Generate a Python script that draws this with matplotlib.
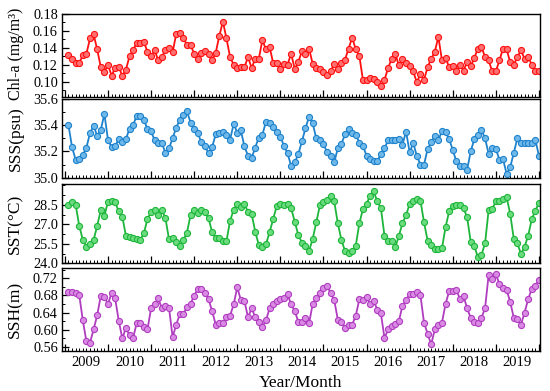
import numpy as np
import matplotlib
matplotlib.use("Agg")
import matplotlib.pyplot as plt
from matplotlib.ticker import FixedLocator, MultipleLocator

plt.rcParams['font.family'] = ['Liberation Serif', 'DejaVu Serif']

years = [str(y) for y in range(2009, 2020)]
months = np.arange(1, 133)

chla = [0.131, 0.127, 0.122, 0.122, 0.131, 0.133, 0.151, 0.156, 0.138, 0.117,
        0.111, 0.120, 0.107, 0.116, 0.117, 0.107, 0.114, 0.130, 0.137, 0.146,
        0.146, 0.147, 0.135, 0.130, 0.137, 0.125, 0.129, 0.137, 0.140, 0.135,
        0.156, 0.158, 0.152, 0.143, 0.143, 0.133, 0.127, 0.134, 0.136, 0.133,
        0.125, 0.134, 0.154, 0.171, 0.151, 0.129, 0.120, 0.116, 0.117, 0.117,
        0.129, 0.116, 0.127, 0.127, 0.149, 0.138, 0.141, 0.122, 0.122, 0.115,
        0.121, 0.120, 0.133, 0.115, 0.123, 0.136, 0.133, 0.139, 0.121, 0.116,
        0.115, 0.111, 0.108, 0.112, 0.121, 0.115, 0.122, 0.126, 0.139, 0.152,
        0.138, 0.130, 0.102, 0.102, 0.104, 0.103, 0.100, 0.095, 0.102, 0.116,
        0.127, 0.133, 0.119, 0.127, 0.122, 0.118, 0.112, 0.099, 0.109, 0.102,
        0.117, 0.127, 0.135, 0.153, 0.125, 0.128, 0.117, 0.118, 0.112, 0.120,
        0.113, 0.123, 0.118, 0.128, 0.139, 0.141, 0.129, 0.125, 0.112, 0.112,
        0.125, 0.139, 0.138, 0.123, 0.120, 0.129, 0.137, 0.127, 0.129, 0.120,
        0.112, 0.112]

sss = [35.400, 35.233, 35.137, 35.144, 35.172, 35.230, 35.340, 35.395, 35.320, 35.365,
       35.486, 35.290, 35.233, 35.238, 35.296, 35.270, 35.294, 35.375, 35.400, 35.473,
       35.473, 35.440, 35.372, 35.354, 35.284, 35.268, 35.263, 35.190, 35.225, 35.300,
       35.382, 35.440, 35.478, 35.506, 35.420, 35.370, 35.340, 35.270, 35.238, 35.190,
       35.233, 35.330, 35.340, 35.347, 35.327, 35.290, 35.410, 35.344, 35.360, 35.238,
       35.167, 35.150, 35.230, 35.306, 35.327, 35.428, 35.415, 35.390, 35.352, 35.314,
       35.243, 35.187, 35.090, 35.116, 35.180, 35.276, 35.377, 35.466, 35.415, 35.300,
       35.290, 35.258, 35.195, 35.162, 35.116, 35.225, 35.258, 35.330, 35.370, 35.340,
       35.327, 35.268, 35.243, 35.167, 35.142, 35.124, 35.124, 35.182, 35.225, 35.284,
       35.284, 35.284, 35.294, 35.251, 35.352, 35.195, 35.263, 35.167, 35.099, 35.099,
       35.218, 35.270, 35.320, 35.284, 35.357, 35.347, 35.294, 35.213, 35.124, 35.086,
       35.086, 35.060, 35.200, 35.294, 35.327, 35.365, 35.300, 35.182, 35.225, 35.220,
       35.137, 35.142, 35.030, 35.079, 35.190, 35.300, 35.268, 35.268, 35.268, 35.268,
       35.290, 35.167]

sst = [28.50, 28.68, 28.50, 26.88, 25.80, 25.28, 25.46, 25.80, 26.88, 28.11,
       27.65, 28.73, 28.83, 28.68, 27.99, 27.60, 26.10, 26.06, 25.98, 25.88,
       25.80, 26.31, 27.42, 27.93, 28.11, 27.73, 28.11, 27.47, 25.85, 25.93,
       25.62, 25.36, 25.80, 26.36, 27.73, 28.11, 27.86, 28.11, 27.93, 27.47,
       26.39, 25.93, 25.93, 25.72, 25.72, 27.27, 28.11, 28.55, 28.32, 28.58,
       27.93, 27.81, 26.44, 25.41, 25.28, 25.46, 26.39, 27.39, 28.42, 28.58,
       28.45, 28.58, 28.24, 27.21, 26.18, 25.59, 25.36, 24.95, 25.88, 27.14,
       28.45, 28.71, 28.89, 29.14, 28.76, 27.08, 25.80, 24.95, 24.82, 24.95,
       25.36, 27.08, 28.17, 28.58, 29.19, 29.53, 28.76, 28.24, 26.11, 25.75,
       25.75, 25.23, 26.11, 27.08, 27.68, 28.58, 28.83, 28.96, 28.83, 27.16,
       25.75, 25.41, 25.10, 25.10, 25.16, 26.78, 27.99, 28.42, 28.50, 28.50,
       28.24, 27.55, 25.67, 25.34, 24.46, 24.64, 25.54, 28.11, 28.17, 28.76,
       28.83, 28.96, 29.09, 27.81, 25.88, 25.54, 24.72, 25.28, 26.11, 27.39,
       28.06, 28.63]

ssh = [0.689, 0.687, 0.686, 0.681, 0.622, 0.573, 0.570, 0.601, 0.634, 0.679,
       0.677, 0.660, 0.685, 0.673, 0.621, 0.580, 0.605, 0.587, 0.581, 0.616,
       0.616, 0.607, 0.601, 0.650, 0.659, 0.673, 0.650, 0.655, 0.651, 0.583,
       0.612, 0.636, 0.636, 0.654, 0.661, 0.679, 0.695, 0.695, 0.685, 0.671,
       0.644, 0.612, 0.615, 0.615, 0.630, 0.633, 0.659, 0.699, 0.669, 0.667,
       0.629, 0.650, 0.630, 0.619, 0.607, 0.622, 0.650, 0.659, 0.667, 0.671,
       0.673, 0.683, 0.659, 0.644, 0.619, 0.619, 0.628, 0.615, 0.660, 0.675,
       0.686, 0.698, 0.703, 0.685, 0.669, 0.624, 0.619, 0.605, 0.611, 0.612,
       0.633, 0.671, 0.669, 0.676, 0.660, 0.667, 0.647, 0.638, 0.581, 0.601,
       0.608, 0.613, 0.620, 0.656, 0.669, 0.683, 0.683, 0.687, 0.681, 0.617,
       0.591, 0.566, 0.601, 0.611, 0.617, 0.660, 0.690, 0.690, 0.693, 0.672,
       0.679, 0.650, 0.628, 0.619, 0.615, 0.628, 0.650, 0.728, 0.718, 0.729,
       0.707, 0.697, 0.693, 0.665, 0.628, 0.625, 0.612, 0.640, 0.671, 0.695,
       0.703, 0.716]

series = [chla, sss, sst, ssh]
ylabels = ['Chl-a (mg/m³)', 'SSS(psu)', 'SST(°C)', 'SSH(m)']
colors = ['#FF1010', '#1E82CC', '#1DB53A', '#B03CC0']
faces = ['#FF7070', '#6FB8EA', '#6ADB7E', '#D98BE3']
ylims = [(0.082, 0.18), (35.0, 35.6), (24.0, 30.1), (0.552, 0.743)]
yticks = [[0.10, 0.12, 0.14, 0.16, 0.18],
          [35.0, 35.2, 35.4, 35.6],
          [24.0, 25.5, 27.0, 28.5],
          [0.56, 0.60, 0.64, 0.68, 0.72]]
yfmt = ['%.2f', '%.1f', '%.1f', '%.2f']
yminor = [0.01, 0.1, 0.75, 0.02]
label_size = [11.5, 12.5, 12.5, 12.5]
label_y = [0.52, 0.5, 0.5, 0.5]

W, H = 550, 391
panels = [(14, 96.7), (99, 177.7), (184, 263.3), (268.3, 350.5)]
left, right = 62, 540

fig = plt.figure(figsize=(5.5, 3.91), dpi=100)
for k, (top, bot) in enumerate(panels):
    ax = fig.add_axes([left / W, 1 - bot / H, (right - left) / W, (bot - top) / H])
    ax.plot(months, series[k], '-', color=colors[k], lw=1.3,
            marker='o', ms=4.4, mfc=faces[k], mec=colors[k], mew=0.8)
    ax.set_xlim(-0.8, 132.3)
    ax.set_ylim(*ylims[k])
    ax.set_yticks(yticks[k])
    ax.set_yticklabels([yfmt[k] % v for v in yticks[k]], fontsize=10.3)
    ax.yaxis.set_minor_locator(MultipleLocator(yminor[k]))
    ax.xaxis.set_major_locator(FixedLocator(np.arange(0, 133, 12)))
    ax.xaxis.set_minor_locator(FixedLocator(np.arange(0, 133, 1)))
    ax.set_xticklabels([])
    ax.tick_params(axis='both', which='major', direction='in', length=5, width=0.9)
    ax.tick_params(axis='both', which='minor', direction='in', length=2.5, width=0.7)
    ax.tick_params(axis='y', which='major', pad=3)
    for s in ax.spines.values():
        s.set_linewidth(1.0)
    ax.set_ylabel(ylabels[k], fontsize=label_size[k])
    ax.yaxis.set_label_coords(-0.08, label_y[k])
    if k == 3:
        for i, y in enumerate(years):
            ax.text(6 + 12 * i, -0.07, y, transform=ax.get_xaxis_transform(),
                    ha='center', va='top', fontsize=10.5)
        ax.text(0.5, -0.30, 'Year/Month', transform=ax.transAxes,
                ha='center', va='top', fontsize=12.5)

fig.savefig('out.png', dpi=100)
